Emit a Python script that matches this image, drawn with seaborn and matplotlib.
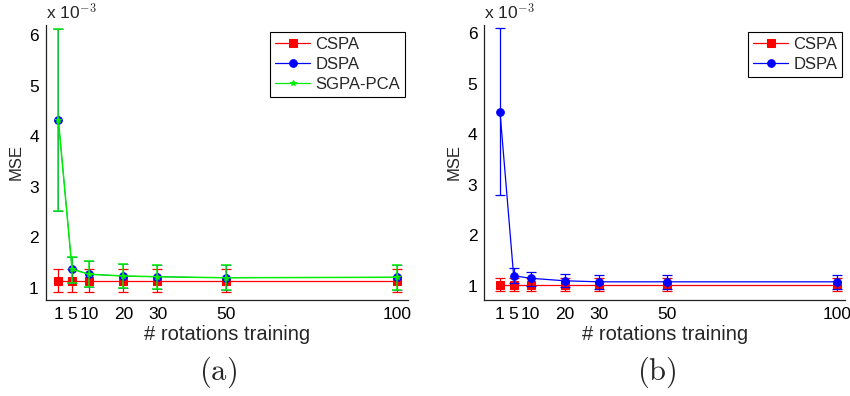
import matplotlib
matplotlib.use("Agg")
import matplotlib.pyplot as plt
import seaborn as sns
import pandas as pd

# MSE values (in units of 1e-3)
rotations = [1, 5, 10, 20, 30, 50, 100]

# panel (a)
a_cspa = [1.14, 1.14, 1.14, 1.14, 1.14, 1.14, 1.14]
a_cspa_lo = [0.92, 0.92, 0.92, 0.92, 0.92, 0.92, 0.92]
a_cspa_hi = [1.37, 1.37, 1.37, 1.37, 1.37, 1.37, 1.37]
a_dspa = [4.32, 1.37, 1.27, 1.235, 1.22, 1.20, 1.21]
a_dspa_lo = [2.53, 1.10, 1.01, 0.99, 0.97, 0.95, 0.95]
a_dspa_hi = [6.12, 1.61, 1.53, 1.48, 1.46, 1.45, 1.45]
a_sgpa = [4.32, 1.37, 1.27, 1.235, 1.22, 1.20, 1.21]
a_sgpa_lo = [2.53, 1.10, 1.01, 0.99, 0.97, 0.95, 0.95]
a_sgpa_hi = [6.12, 1.61, 1.53, 1.48, 1.46, 1.45, 1.45]

# panel (b)
b_cspa = [1.02, 1.02, 1.02, 1.02, 1.02, 1.02, 1.02]
b_cspa_lo = [0.89, 0.89, 0.89, 0.89, 0.89, 0.89, 0.89]
b_cspa_hi = [1.16, 1.16, 1.16, 1.16, 1.16, 1.16, 1.16]
b_dspa = [4.44, 1.20, 1.15, 1.10, 1.08, 1.08, 1.08]
b_dspa_lo = [2.79, 1.05, 1.00, 0.97, 0.94, 0.94, 0.94]
b_dspa_hi = [6.09, 1.36, 1.28, 1.23, 1.22, 1.22, 1.22]

sns.set_style("white")
plt.rcParams['font.family'] = ['Liberation Sans', 'DejaVu Sans']
plt.rcParams['mathtext.fontset'] = 'cm'

fig = plt.figure(figsize=(8.5, 3.96), dpi=100)
ax_a = fig.add_axes([0.0538, 0.2424, 0.4262, 0.6946])
ax_b = fig.add_axes([0.5698, 0.2424, 0.4244, 0.6946])


def draw_series(ax, y, lo, hi, color, marker, ms, label, lw=0.9, z=2):
    df = pd.DataFrame({'rot': rotations, 'mse': y})
    err = [[v - l for v, l in zip(y, lo)], [h - v for v, h in zip(y, hi)]]
    ax.errorbar(rotations, y, yerr=err, fmt='none', ecolor=color,
                elinewidth=lw, capsize=3.5, capthick=lw, zorder=z)
    sns.lineplot(data=df, x='rot', y='mse', ax=ax, color=color, marker=marker,
                 markersize=ms, markeredgecolor=color, linewidth=lw,
                 label=label, zorder=z + 0.5)


draw_series(ax_a, a_cspa, a_cspa_lo, a_cspa_hi, '#ff0000', 's', 6, 'CSPA')
draw_series(ax_a, a_dspa, a_dspa_lo, a_dspa_hi, '#0000ff', 'o', 5.5, 'DSPA',
            lw=0.5, z=3)
draw_series(ax_a, a_sgpa, a_sgpa_lo, a_sgpa_hi, '#00ee00', '*', 4, 'SGPA-PCA',
            lw=1.1, z=4)

draw_series(ax_b, b_cspa, b_cspa_lo, b_cspa_hi, '#ff0000', 's', 6, 'CSPA')
draw_series(ax_b, b_dspa, b_dspa_lo, b_dspa_hi, '#0000ff', 'o', 5.5, 'DSPA',
            z=3)

limits = {ax_a: ((-2.7, 103.3), (0.76, 6.2)), ax_b: ((-3.6, 102.3), (0.72, 6.16))}
for ax, (xl, yl) in limits.items():
    ax.set_xlim(*xl)
    ax.set_ylim(*yl)
    ax.set_xticks(rotations)
    ax.set_yticks([1, 2, 3, 4, 5, 6])
    ax.tick_params(direction='in', length=3, width=0.8, labelsize=12.5,
                   colors='black', pad=5)
    for s in ['top', 'right']:
        ax.spines[s].set_visible(False)
    for s in ['left', 'bottom']:
        ax.spines[s].set_color('#222222')
        ax.spines[s].set_linewidth(0.9)
    ax.set_xlabel('# rotations training', fontsize=14.5, labelpad=2)
    ax.set_ylabel('MSE', fontsize=12, labelpad=4)
    ax.text(0.0, 1.01, r'x 10$^{\mathsf{-3}}$', transform=ax.transAxes,
            fontsize=12.5, ha='left', va='bottom')
    leg = ax.legend(loc='upper right', bbox_to_anchor=(0.992, 0.976),
                    borderaxespad=0, fontsize=12, handlelength=2.1,
                    fancybox=False, framealpha=1, edgecolor='black',
                    labelspacing=0.3, handletextpad=0.3, borderpad=0.3)
    leg.get_frame().set_linewidth(0.8)
    for h in leg.legend_handles:
        h.set_linewidth(0.9)

fig.text(0.2565, 0.06, r'$\mathrm{(a)}$', fontsize=22, ha='center', va='center')
fig.text(0.773, 0.06, r'$\mathrm{(b)}$', fontsize=22, ha='center', va='center')

fig.savefig('out.png', dpi=100)
